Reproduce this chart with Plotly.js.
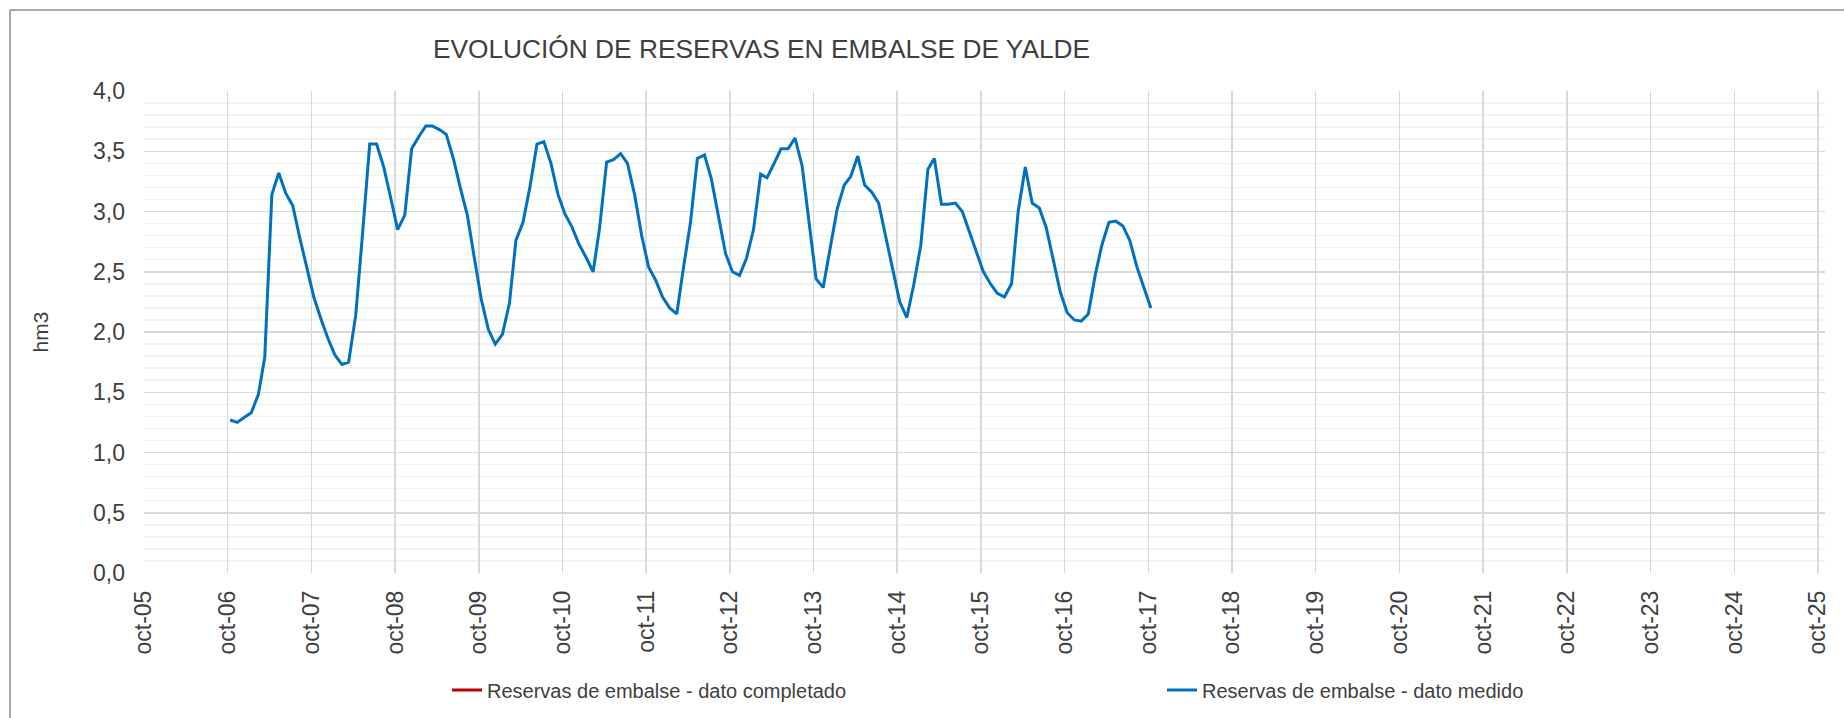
<!DOCTYPE html>
<html>
<head>
<meta charset="utf-8">
<script src="https://cdn.plot.ly/plotly-3.0.1.min.js"></script>
<style>
html, body { margin: 0; padding: 0; background: #ffffff; }
#chart { width: 1844px; height: 718px; }
</style>
</head>
<body>
<div id="chart"></div>
<script>
// First month of the measured series (year, month) and measurement day in month
const firstYear = 2006;
const firstMonth = 10;
const measureDay = 12;

// Reservas de embalse - dato medido (hm3), monthly from oct-06 to oct-17
const measured = [
  1.27, 1.25, 1.29, 1.33, 1.48, 1.79, 3.14, 3.32, 3.15, 3.05, 2.78, 2.53,
  2.29, 2.11, 1.95, 1.81, 1.73, 1.75, 2.14, 2.82, 3.56, 3.56, 3.37, 3.11,
  2.85, 2.97, 3.52, 3.62, 3.71, 3.71, 3.68, 3.64, 3.44, 3.20, 2.97, 2.61,
  2.27, 2.02, 1.90, 1.98, 2.24, 2.76, 2.91, 3.20, 3.56, 3.58, 3.40, 3.14,
  2.98, 2.87, 2.73, 2.62, 2.50, 2.86, 3.41, 3.43, 3.48, 3.40, 3.14, 2.80,
  2.54, 2.43, 2.29, 2.20, 2.15, 2.53, 2.91, 3.44, 3.47, 3.27, 2.95, 2.65,
  2.50, 2.47, 2.61, 2.85, 3.31, 3.28, 3.40, 3.52, 3.52, 3.61, 3.38, 2.89,
  2.44, 2.37, 2.69, 3.02, 3.22, 3.29, 3.46, 3.22, 3.16, 3.07, 2.79, 2.50,
  2.25, 2.12, 2.39, 2.72, 3.35, 3.44, 3.06, 3.06, 3.07, 3.00, 2.83, 2.65,
  2.50, 2.40, 2.32, 2.29, 2.40, 3.00, 3.37, 3.07, 3.03, 2.87, 2.61, 2.33,
  2.16, 2.10, 2.09, 2.15, 2.48, 2.72, 2.91, 2.92, 2.88, 2.76, 2.54, 2.36,
  2.20
];

// Reservas de embalse - dato completado: no values in this chart
const completed = [null];
const completedDates = [null];

// X axis ticks
const tickDates = [
  '2005-10-01', '2006-10-01', '2007-10-01', '2008-10-01', '2009-10-01',
  '2010-10-01', '2011-10-01', '2012-10-01', '2013-10-01', '2014-10-01',
  '2015-10-01', '2016-10-01', '2017-10-01', '2018-10-01', '2019-10-01',
  '2020-10-01', '2021-10-01', '2022-10-01', '2023-10-01', '2024-10-01',
  '2025-10-01'
];
const tickLabels = [
  'oct-05', 'oct-06', 'oct-07', 'oct-08', 'oct-09', 'oct-10', 'oct-11',
  'oct-12', 'oct-13', 'oct-14', 'oct-15', 'oct-16', 'oct-17', 'oct-18',
  'oct-19', 'oct-20', 'oct-21', 'oct-22', 'oct-23', 'oct-24', 'oct-25'
];

const chartTitle = 'EVOLUCIÓN DE RESERVAS EN EMBALSE DE YALDE';
const yTitle = 'hm3';
const nameCompleted = 'Reservas de embalse - dato completado';
const nameMeasured = 'Reservas de embalse - dato medido';

// Monthly dates for the measured series
function pad(n) { return (n < 10 ? '0' : '') + n; }
const measuredDates = measured.map(function (_, i) {
  const total = (firstMonth - 1) + i;
  const y = firstYear + Math.floor(total / 12);
  const m = (total % 12) + 1;
  return y + '-' + pad(m) + '-' + pad(measureDay);
});

const FONT = 'Liberation Sans, Arial, sans-serif';
const TXT = '#404040';

const W = 1844, H = 718;
const M = { l: 144, r: 19, t: 91, b: 145 };
const pw = W - M.l - M.r, ph = H - M.t - M.b;
function px2x(p) { return (p - M.l) / pw; }
function px2y(p) { return (H - M.b - p) / ph; }

const traces = [
  {
    type: 'scatter', mode: 'lines', name: nameCompleted,
    x: completedDates, y: completed,
    line: { color: '#C00000', width: 3 },
    legend: 'legend',
    hoverinfo: 'skip'
  },
  {
    type: 'scatter', mode: 'lines', name: nameMeasured,
    x: measuredDates, y: measured,
    line: { color: '#0070C0', width: 3 },
    legend: 'legend2'
  }
];

function legendAt(pxX, pxY) {
  return {
    orientation: 'h',
    xref: 'container', yref: 'container',
    x: pxX / W, y: 1 - pxY / H,
    xanchor: 'left', yanchor: 'middle',
    font: { family: FONT, size: 20, color: TXT },
    bgcolor: 'rgba(0,0,0,0)', borderwidth: 0
  };
}

const layout = {
  width: W, height: H,
  margin: M,
  paper_bgcolor: '#ffffff', plot_bgcolor: '#ffffff',
  separators: ',.',
  font: { family: FONT, color: TXT },
  showlegend: true,
  title: {
    text: chartTitle,
    font: { family: FONT, size: 26.3, color: TXT },
    xref: 'container', yref: 'container',
    x: 761.5 / W, y: 1 - 49 / H,
    xanchor: 'center', yanchor: 'middle'
  },
  xaxis: {
    type: 'date',
    range: ['2005-10-01', '2025-11-01'],
    tickmode: 'array', tickvals: tickDates, ticktext: tickLabels,
    tickangle: -90,
    tickfont: { family: FONT, size: 23, color: TXT },
    ticks: '', ticklabelstandoff: 12,
    showgrid: true, gridcolor: '#D9D9D9', gridwidth: 1.5,
    zeroline: false, showline: false, fixedrange: true, automargin: false
  },
  yaxis: {
    range: [0, 4], dtick: 0.5, tick0: 0, tickformat: '.1f',
    tickfont: { family: FONT, size: 23, color: TXT },
    ticks: '', ticklabelstandoff: 18,
    showgrid: true, gridcolor: '#D9D9D9', gridwidth: 1.5,
    minor: { dtick: 0.1, showgrid: true, gridcolor: '#F2F2F2', gridwidth: 1.5, ticks: '' },
    zeroline: false, showline: false, fixedrange: true, automargin: false,
    title: { text: yTitle, font: { family: FONT, size: 21, color: TXT }, standoff: 38 }
  },
  legend: legendAt(447, 690),
  legend2: legendAt(1162, 690),
  shapes: [
    { type: 'line', xref: 'paper', yref: 'paper',
      x0: px2x(10), x1: px2x(10), y0: px2y(10), y1: px2y(760),
      line: { color: '#8C8C8C', width: 1.5 } },
    { type: 'line', xref: 'paper', yref: 'paper',
      x0: px2x(10), x1: px2x(1900), y0: px2y(10), y1: px2y(10),
      line: { color: '#8C8C8C', width: 1.5 } }
  ]
};

Plotly.newPlot('chart', traces, layout, { displayModeBar: false, staticPlot: true });
</script>
</body>
</html>
